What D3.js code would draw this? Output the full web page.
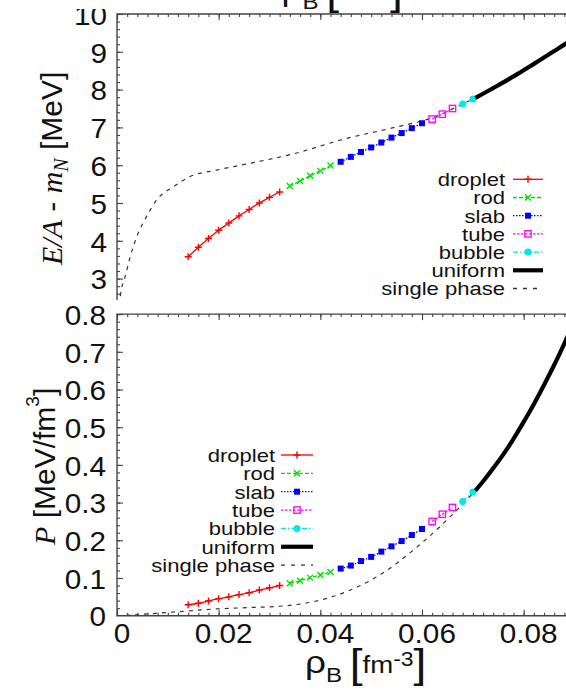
<!DOCTYPE html>
<html>
<head>
<meta charset="utf-8">
<script src="https://cdn.jsdelivr.net/npm/d3@7"></script>
<style>
  body { margin: 0; background: #fff; }
  svg { display: block; }
  text { font-family: "Liberation Sans", Arial, Helvetica, sans-serif; fill: #111; }
</style>
</head>
<body>
<svg id="chart" width="566" height="690"></svg>
<script>
// ---- density grid of each pasta phase [fm^-3] ----
const dropletRho = [0.014, 0.016, 0.018, 0.020, 0.022, 0.024, 0.026, 0.028, 0.030, 0.032];
const rodRho     = [0.034, 0.036, 0.038, 0.040, 0.042];
const slabRho    = [0.044, 0.046, 0.048, 0.050, 0.052, 0.054, 0.056, 0.058, 0.060];
const tubeRho    = [0.062, 0.064, 0.066];
const bubbleRho  = [0.068, 0.070];
const uniformRho = [0.0705, 0.072, 0.074, 0.076, 0.078, 0.080, 0.082, 0.084, 0.086, 0.088, 0.090];
const singleRhoE = [0.0004, 0.0009, 0.0016, 0.0026, 0.0039, 0.0058, 0.0078, 0.0111, 0.0144, 0.0196,
                    0.0262, 0.0347, 0.0452, 0.0540, 0.0616, 0.064, 0.066, 0.068, 0.0705];
const singleRhoP = [0.0, 0.0065, 0.0124, 0.0196, 0.0268, 0.0320, 0.0386, 0.0452, 0.0517, 0.0583,
                    0.0635, 0.0675, 0.0705];

// ---- energy per baryon E/A - m_N [MeV] ----
const dropletE = [3.58, 3.83, 4.06, 4.28, 4.47, 4.66, 4.83, 5.00, 5.15, 5.29];
const rodE     = [5.45, 5.58, 5.72, 5.85, 5.99];
const slabE    = [6.09, 6.22, 6.35, 6.47, 6.60, 6.73, 6.85, 6.98, 7.11];
const tubeE    = [7.22, 7.35, 7.50];
const bubbleE  = [7.62, 7.75];
const uniformE = [7.78, 7.89, 8.04, 8.19, 8.35, 8.51, 8.68, 8.85, 9.02, 9.19, 9.37];
const singleE  = [2.30, 2.74, 3.05, 3.58, 4.11, 4.64, 5.08, 5.43, 5.70, 5.87,
                  6.05, 6.30, 6.71, 6.98, 7.24, 7.36, 7.49, 7.62, 7.78];

// ---- pressure P [MeV/fm^3] ----
const dropletP = [0.029, 0.033, 0.039, 0.045, 0.050, 0.056, 0.061, 0.068, 0.074, 0.080];
const rodP     = [0.086, 0.093, 0.101, 0.108, 0.116];
const slabP    = [0.125, 0.133, 0.145, 0.156, 0.170, 0.184, 0.198, 0.214, 0.230];
const tubeP    = [0.250, 0.269, 0.287];
const bubbleP  = [0.303, 0.328];
const uniformP = [0.332, 0.356, 0.391, 0.428, 0.469, 0.514, 0.561, 0.612, 0.665, 0.722, 0.782];
const singleP  = [0.000, 0.005, 0.011, 0.018, 0.022, 0.025, 0.037, 0.064, 0.108, 0.174,
                  0.236, 0.289, 0.332];

// ---- tick labels ----
const xTickValues = [0, 0.02, 0.04, 0.06, 0.08];
const eTickValues = [3, 4, 5, 6, 7, 8, 9, 10];
const pTickValues = [0, 0.1, 0.2, 0.3, 0.4, 0.5, 0.6, 0.7, 0.8];
const legendNames = ["droplet", "rod", "slab", "tube", "bubble", "uniform", "single phase"];

const svg = d3.select("#chart");
const SX = 1.1;        // horizontal glyph widening of tick labels
const SX_LEGEND = 1.16; // same for legend entries

const x  = d3.scaleLinear().domain([0, 0.09]).range([117, 574.5]);
const yE = d3.scaleLinear().domain([2.3, 10]).range([305.06, 14]);
const yP = d3.scaleLinear().domain([0, 0.8]).range([615.7, 314.1]);

const frameColor = "#444";
const serif = "'Liberation Serif', 'Times New Roman', serif";

// phase styles
const styles = {
  droplet: { color: "#ff0000", dash: null,        width: 1.3, marker: "plus" },
  rod:     { color: "#00e000", dash: "4,2",       width: 1.3, marker: "cross" },
  slab:    { color: "#0000ff", dash: "1.5,1.5",   width: 1.3, marker: "fsquare" },
  tube:    { color: "#ff00ff", dash: "2.5,1.5",   width: 1.3, marker: "osquare" },
  bubble:  { color: "#00e8e8", dash: "5,2,1.5,2", width: 1.3, marker: "fcircle" },
  uniform: { color: "#000000", dash: null,        width: 4.2, marker: null },
  "single phase": { color: "#333333", dash: "4,5", width: 1.2, marker: null }
};

function drawMarker(g, type, color, cx, cy) {
  if (type === "plus") {
    g.append("path").attr("d", `M${cx-3.5},${cy}H${cx+3.5}M${cx},${cy-3.5}V${cy+3.5}`)
      .attr("stroke", color).attr("stroke-width", 1.4);
  } else if (type === "cross") {
    g.append("path").attr("d", `M${cx-3},${cy-3}L${cx+3},${cy+3}M${cx-3},${cy+3}L${cx+3},${cy-3}`)
      .attr("stroke", color).attr("stroke-width", 1.4);
  } else if (type === "fsquare") {
    g.append("rect").attr("x", cx-3).attr("y", cy-3).attr("width", 6).attr("height", 6).attr("fill", color);
  } else if (type === "osquare") {
    g.append("rect").attr("x", cx-3.2).attr("y", cy-3.2).attr("width", 6.4).attr("height", 6.4)
      .attr("fill", "none").attr("stroke", color).attr("stroke-width", 1.3);
  } else if (type === "fcircle") {
    g.append("circle").attr("cx", cx).attr("cy", cy).attr("r", 3.5).attr("fill", color);
  }
}

function drawSeries(g, name, xs, ys, yScale) {
  const st = styles[name];
  const pts = xs.map((v, i) => [v, ys[i]]);
  const line = d3.line().x(d => x(d[0])).y(d => yScale(d[1])).curve(d3.curveMonotoneX);
  g.append("path").attr("d", line(pts)).attr("fill", "none")
    .attr("stroke", st.color).attr("stroke-width", st.width)
    .attr("stroke-dasharray", st.dash);
  if (st.marker) pts.forEach(p => drawMarker(g, st.marker, st.color, x(p[0]), yScale(p[1])));
}

function drawLegend(g, textRight, lineX1, lineX2, y0, step) {
  legendNames.forEach((name, i) => {
    const st = styles[name];
    const cy = y0 + i * step;
    g.append("text").attr("transform", `translate(${textRight},${cy}) scale(${SX_LEGEND},1)`)
      .attr("text-anchor", "end").attr("dy", "0.36em").style("font-size", "19px").text(name);
    g.append("line").attr("x1", lineX1).attr("x2", lineX2).attr("y1", cy).attr("y2", cy)
      .attr("stroke", st.color).attr("stroke-width", name === "uniform" ? 4.2 : 1.3)
      .attr("stroke-dasharray", name === "single phase" ? "4,6" : st.dash);
    if (st.marker) drawMarker(g, st.marker, st.color, (lineX1 + lineX2) / 2, cy);
  });
}

function minorTicks(scale, step) {
  const [a, b] = scale.domain();
  return d3.range(Math.ceil(a / step - 1e-9), Math.floor(b / step + 1e-9) + 1).map(k => +(k * step).toFixed(6));
}

function styleAxis(g) {
  g.select(".domain").remove();
  g.selectAll(".tick line").attr("stroke", frameColor).attr("stroke-width", 1.1);
  g.selectAll(".tick text").remove();
}

// density axis title: rho_B [fm^-3]
function rhoTitle(g, x0, baseline) {
  const t = g.append("text").attr("transform", `translate(${x0},${baseline}) scale(1.15,1)`)
    .style("font-size", "32px");
  t.append("tspan").text("ρ");
  t.append("tspan").style("font-size", "21px").attr("dy", 9).text("B");
  t.append("tspan").style("font-size", "24px").attr("dy", -9).text(" ");
  t.append("tspan").style("font-size", "40px").attr("dy", 5).text("[");
  t.append("tspan").style("font-size", "24px").attr("dy", -5).text("fm");
  t.append("tspan").style("font-size", "20px").attr("dy", -7).text("-3");
  t.append("tspan").style("font-size", "40px").attr("dy", 12).text("]");
}

const defs = svg.append("defs");
defs.append("clipPath").attr("id", "clipTop").append("rect")
  .attr("x", 117).attr("y", 0).attr("width", 460).attr("height", 300);
defs.append("clipPath").attr("id", "clipTopLabels").append("rect")
  .attr("x", 0).attr("y", 9).attr("width", 117).attr("height", 291);
defs.append("clipPath").attr("id", "clipBottom").append("rect")
  .attr("x", 117).attr("y", 314).attr("width", 460).attr("height", 302);

// ================= upper panel: E/A - m_N =================
const upper = svg.append("g");
const upperPlot = upper.append("g").attr("clip-path", "url(#clipTop)");

upperPlot.append("g").attr("transform", "translate(117,0)")
  .call(d3.axisLeft(yE).tickValues(minorTicks(yE, 0.2)).tickSize(-3)).call(styleAxis);
upperPlot.append("g").attr("transform", "translate(117,0)")
  .call(d3.axisLeft(yE).tickValues(eTickValues).tickSize(-6)).call(styleAxis);
upperPlot.append("g").attr("transform", "translate(0,14)")
  .call(d3.axisTop(x).tickValues(minorTicks(x, 0.002)).tickSize(-3)).call(styleAxis);
upperPlot.append("g").attr("transform", "translate(0,14)")
  .call(d3.axisTop(x).tickValues(xTickValues).tickSize(-6)).call(styleAxis);

drawSeries(upperPlot, "single phase", singleRhoE, singleE, yE);
drawSeries(upperPlot, "droplet", dropletRho, dropletE, yE);
drawSeries(upperPlot, "rod", rodRho, rodE, yE);
drawSeries(upperPlot, "slab", slabRho, slabE, yE);
drawSeries(upperPlot, "tube", tubeRho, tubeE, yE);
drawSeries(upperPlot, "bubble", bubbleRho, bubbleE, yE);
drawSeries(upperPlot, "uniform", uniformRho, uniformE, yE);

upper.append("path").attr("d", `M117,300V14H580`).attr("fill", "none")
  .attr("stroke", frameColor).attr("stroke-width", 1.4);

upper.append("g").attr("clip-path", "url(#clipTopLabels)")
  .selectAll("text").data(eTickValues).join("text")
  .attr("transform", d => `translate(107,${yE(d) + 1}) scale(${SX},1)`)
  .attr("text-anchor", "end").attr("dy", "0.36em").style("font-size", "27px")
  .text(d => d3.format("d")(d));

drawLegend(upper, 505, 513, 543, 179.3, 18.2);

// y title of upper panel
const tE = upper.append("text").attr("transform", "translate(62,265) rotate(-90)")
  .attr("text-anchor", "start").style("font-size", "30px");
tE.append("tspan").style("font-family", serif).style("font-style", "italic").text("E/A");
tE.append("tspan").text(" - ");
tE.append("tspan").style("font-family", serif).style("font-style", "italic").text("m");
tE.append("tspan").style("font-family", serif).style("font-style", "italic")
  .style("font-size", "20px").attr("dy", 6).text("N");
tE.append("tspan").attr("dy", -6).text(" [MeV]");

// title of the density axis belonging to the panel above, mostly outside the view
rhoTitle(svg, 281.5, 0);

// ================= lower panel: pressure =================
const lower = svg.append("g");
const lowerPlot = lower.append("g").attr("clip-path", "url(#clipBottom)");

lowerPlot.append("g").attr("transform", "translate(117,0)")
  .call(d3.axisLeft(yP).tickValues(minorTicks(yP, 0.02)).tickSize(-3)).call(styleAxis);
lowerPlot.append("g").attr("transform", "translate(117,0)")
  .call(d3.axisLeft(yP).tickValues(pTickValues).tickSize(-6)).call(styleAxis);
lowerPlot.append("g").attr("transform", "translate(0,314.1)")
  .call(d3.axisTop(x).tickValues(minorTicks(x, 0.002)).tickSize(-3)).call(styleAxis);
lowerPlot.append("g").attr("transform", "translate(0,314.1)")
  .call(d3.axisTop(x).tickValues(xTickValues).tickSize(-6)).call(styleAxis);
lowerPlot.append("g").attr("transform", "translate(0,615.7)")
  .call(d3.axisBottom(x).tickValues(minorTicks(x, 0.002)).tickSize(-3)).call(styleAxis);
lowerPlot.append("g").attr("transform", "translate(0,615.7)")
  .call(d3.axisBottom(x).tickValues(xTickValues).tickSize(-6)).call(styleAxis);

drawSeries(lowerPlot, "single phase", singleRhoP, singleP, yP);
drawSeries(lowerPlot, "droplet", dropletRho, dropletP, yP);
drawSeries(lowerPlot, "rod", rodRho, rodP, yP);
drawSeries(lowerPlot, "slab", slabRho, slabP, yP);
drawSeries(lowerPlot, "tube", tubeRho, tubeP, yP);
drawSeries(lowerPlot, "bubble", bubbleRho, bubbleP, yP);
drawSeries(lowerPlot, "uniform", uniformRho, uniformP, yP);

lower.append("path").attr("d", `M580,314.1H117V615.7H580`).attr("fill", "none")
  .attr("stroke", frameColor).attr("stroke-width", 1.4);

lower.append("g").selectAll("text").data(pTickValues).join("text")
  .attr("transform", d => `translate(106,${yP(d) + 1}) scale(${SX},1)`)
  .attr("text-anchor", "end").attr("dy", "0.36em").style("font-size", "27px")
  .text(d => d === 0 ? "0" : d3.format(".1f")(d));

lower.append("g").selectAll("text").data(xTickValues).join("text")
  .attr("transform", d => `translate(${x(d) + 5},643) scale(${SX},1)`)
  .attr("text-anchor", "middle").style("font-size", "27px")
  .text(d => d === 0 ? "0" : d3.format(".2f")(d));

drawLegend(lower, 275, 281, 313, 455, 18.35);

// y title of lower panel
const tP = lower.append("text").attr("transform", "translate(55,545) rotate(-90)")
  .attr("text-anchor", "start").style("font-size", "30px");
tP.append("tspan").style("font-family", serif).style("font-style", "italic").text("P");
tP.append("tspan").text(" [MeV/fm");
tP.append("tspan").style("font-size", "19px").attr("dy", -16).text("3");
tP.append("tspan").attr("dy", 16).text("]");

rhoTitle(svg, 305, 673);
</script>
</body>
</html>
